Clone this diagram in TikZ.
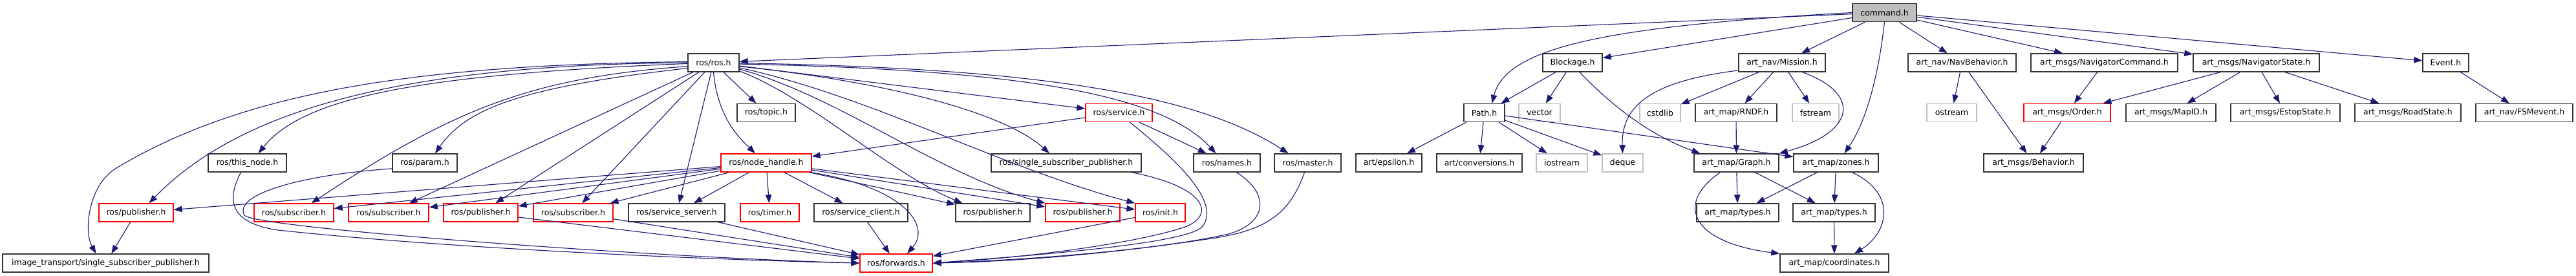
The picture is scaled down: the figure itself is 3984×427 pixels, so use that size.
\documentclass[tikz,border=0pt]{standalone}
\usepackage{fontspec}
\setmainfont{DejaVu Sans}
\usetikzlibrary{arrows.meta}
\definecolor{edgeblue}{HTML}{191970}
\definecolor{boxgray}{HTML}{BFBFBF}

\begin{document}
\begin{tikzpicture}[
    x=1pt, y=-1pt,
    font=\fontsize{12.5}{15}\selectfont,
    hfile/.style={rectangle, draw=black!80, line width=1.4pt, minimum height=28pt, inner sep=0pt},
    trunc/.style={hfile, draw=red},
    ext/.style={hfile, draw=boxgray},
    cur/.style={hfile, fill=boxgray},
    dep/.style={draw=edgeblue, line width=1.1pt, -{Triangle[length=13pt, width=9.5pt]}}
]
  \useasboundingbox (0,0) rectangle (3984,427);

  % --- ROW 0 ---
  \node[cur, minimum width=99pt] (command) at (2914.5,19.5) {command.h};

  % --- ROW 1 ---
  \node[hfile, minimum width=79pt] (ros) at (1103.5,97) {ros/ros.h};
  \node[hfile, minimum width=92pt] (blockage) at (2432,97) {Blockage.h};
  \node[hfile, minimum width=134pt] (mission) at (2756,97) {art\_nav/Mission.h};
  \node[hfile, minimum width=167pt] (navbeh) at (3034.5,97) {art\_nav/NavBehavior.h};
  \node[hfile, minimum width=227pt] (navcmd) at (3254.5,97) {art\_msgs/NavigatorCommand.h};
  \node[hfile, minimum width=195pt] (navstate) at (3489.5,97) {art\_msgs/NavigatorState.h};
  \node[hfile, minimum width=71pt] (event) at (3782.5,97) {Event.h};

  % --- ROW 2 ---
  \node[hfile, minimum width=90pt] (topic) at (1185,174.5) {ros/topic.h};
  \node[trunc, minimum width=103pt] (service) at (1730.5,174.5) {ros/service.h};
  \node[hfile, minimum width=63pt] (path) at (2295.5,174.5) {Path.h};
  \node[ext, minimum width=64pt] (vector) at (2381,174.5) {vector};
  \node[ext, minimum width=63pt] (cstdlib) at (2567.5,174.5) {cstdlib};
  \node[hfile, minimum width=126pt] (rndf) at (2685,174.5) {art\_map/RNDF.h};
  \node[ext, minimum width=72pt] (fstream) at (2808,174.5) {fstream};
  \node[ext, minimum width=77pt] (ostream) at (3018.5,174.5) {ostream};
  \node[trunc, minimum width=134pt] (order) at (3197,174.5) {art\_msgs/Order.h};
  \node[hfile, minimum width=139pt] (mapid) at (3357.5,174.5) {art\_msgs/MapID.h};
  \node[hfile, minimum width=169pt] (estop) at (3534.5,174.5) {art\_msgs/EstopState.h};
  \node[hfile, minimum width=164pt] (road) at (3724,174.5) {art\_msgs/RoadState.h};
  \node[hfile, minimum width=150pt] (fsm) at (3904,174.5) {art\_nav/FSMevent.h};

  % --- ROW 3 ---
  \node[hfile, minimum width=121pt] (thisnode) at (382.5,252) {ros/this\_node.h};
  \node[hfile, minimum width=100pt] (param) at (657,252) {ros/param.h};
  \node[trunc, minimum width=140pt] (nh) at (1185,252) {ros/node\_handle.h};
  \node[hfile, minimum width=232pt] (single) at (1649,252) {ros/single\_subscriber\_publisher.h};
  \node[hfile, minimum width=103pt] (names) at (1897.5,252) {ros/names.h};
  \node[hfile, minimum width=103pt] (master) at (2022.5,252) {ros/master.h};
  \node[hfile, minimum width=102pt] (epsilon) at (2148,252) {art/epsilon.h};
  \node[hfile, minimum width=132pt] (conv) at (2288,252) {art/conversions.h};
  \node[ext, minimum width=79pt] (iostream) at (2415.5,252) {iostream};
  \node[ext, minimum width=63pt] (deque) at (2509.5,252) {deque};
  \node[hfile, minimum width=131pt] (graph) at (2685.5,252) {art\_map/Graph.h};
  \node[hfile, minimum width=131pt] (zones) at (2839.5,252) {art\_map/zones.h};
  \node[hfile, minimum width=154pt] (behavior) at (3145,252) {art\_msgs/Behavior.h};

  % --- ROW 4 ---
  \node[trunc, minimum width=115pt] (pubA) at (210.5,329) {ros/publisher.h};
  \node[trunc, minimum width=123pt] (subA) at (454.5,329) {ros/subscriber.h};
  \node[trunc, minimum width=124pt] (subB) at (601,329) {ros/subscriber.h};
  \node[trunc, minimum width=115pt] (pubB) at (743.5,329) {ros/publisher.h};
  \node[trunc, minimum width=123pt] (subC) at (886.5,329) {ros/subscriber.h};
  \node[hfile, minimum width=149pt] (srvserver) at (1046.5,329) {ros/service\_server.h};
  \node[trunc, minimum width=91pt] (timer) at (1190.5,329) {ros/timer.h};
  \node[hfile, minimum width=145pt] (srvclient) at (1331.5,329) {ros/service\_client.h};
  \node[hfile, minimum width=115pt] (pubC) at (1535.5,329) {ros/publisher.h};
  \node[trunc, minimum width=115pt] (pubD) at (1674.5,329) {ros/publisher.h};
  \node[trunc, minimum width=77pt] (init) at (1794.5,329) {ros/init.h};
  \node[hfile, minimum width=127pt] (typesA) at (2687.5,329) {art\_map/types.h};
  \node[hfile, minimum width=127pt] (typesB) at (2836.5,329) {art\_map/types.h};

  % --- ROW 5 ---
  \node[hfile, minimum width=319pt] (imgsub) at (163.5,407) {image\_transport/single\_subscriber\_publisher.h};
  \node[trunc, minimum width=112pt] (forwards) at (1386,407) {ros/forwards.h};
  \node[hfile, minimum width=168pt] (coords) at (2837,407) {art\_map/coordinates.h};

  % --- DRAWING EDGES ---

  % command.h
  \draw[dep] (command) -- (ros);
  \draw[dep] (command.west) .. controls (2500,40) and (2330,70) .. ([xshift=12pt]path.north);
  \draw[dep] (command) -- (blockage);
  \draw[dep] (command) -- (mission);
  \draw[dep] (command.south) .. controls (2905,120) and (2885,190) .. ([xshift=13pt]zones.north);
  \draw[dep] (command) -- (navbeh);
  \draw[dep] (command) -- (navcmd);
  \draw[dep] (command) -- (navstate);
  \draw[dep] (command) -- (event);

  % ros/ros.h, left and down
  \draw[dep] (ros) -- (topic);
  \draw[dep] (ros.south) .. controls (1110,180) and (1140,210) .. ([xshift=-17pt]nh.north);
  \draw[dep] (ros) -- (srvserver);
  \draw[dep] (ros) -- (subC);
  \draw[dep] (ros) -- (pubB);
  \draw[dep] (ros) -- (subB);
  \draw[dep] (ros.188) .. controls (820,120) and (700,170) .. ([xshift=27pt]subA.north);
  \draw[dep] (ros.192) .. controls (800,135) and (720,170) .. ([xshift=16pt]param.north);
  \draw[dep] (ros.182) .. controls (650,115) and (470,150) .. ([xshift=17pt]thisnode.north);
  \draw[dep] (ros.180) .. controls (650,100) and (380,160) .. ([xshift=20pt]pubA.north);
  \draw[dep] (ros.178) .. controls (650,100) and (380,140) .. (180,260)
             .. controls (135,287) and (130,360) .. ([xshift=-15pt]imgsub.north);

  % ros/ros.h, right
  \draw[dep] (ros) -- (service);
  \draw[dep] (ros.-8) .. controls (1400,130) and (1560,180) .. ([xshift=-26pt]single.north);
  \draw[dep] (ros.-3) .. controls (1600,108) and (1800,150) .. ([xshift=-17pt]names.north);
  \draw[dep] (ros.-1) .. controls (1600,105) and (1850,145) .. ([xshift=-30pt]master.north);
  \draw[dep] (ros.-18) .. controls (1250,150) and (1380,270) .. ([xshift=-47pt]pubC.north);
  \draw[dep] (ros.-14) .. controls (1300,150) and (1450,270) .. (pubD.north west);
  \draw[dep] (ros.-11) .. controls (1350,150) and (1550,260) .. (init.north west);

  % ros/node_handle.h
  \draw[dep] (nh) -- (pubA);
  \draw[dep] (nh) -- (subA);
  \draw[dep] (nh) -- (subB);
  \draw[dep] (nh) -- (pubB);
  \draw[dep] (nh) -- (subC);
  \draw[dep] (nh) -- (srvserver);
  \draw[dep] (nh) -- (timer);
  \draw[dep] (nh) -- (srvclient);
  \draw[dep] (nh.-12) .. controls (1400,290) and (1440,350) .. ([xshift=17pt]forwards.north);
  \draw[dep] (nh) -- (pubC);
  \draw[dep] (nh) -- (pubD);
  \draw[dep] (nh) -- (init);

  % ros/service.h and the right side into forwards
  \draw[dep] (service) -- (nh);
  \draw[dep] (service) -- (names);
  \draw[dep] ([xshift=17pt]service.south) .. controls (1810,240) and (1890,310) .. (1860,350)
             .. controls (1840,377) and (1600,395) .. (forwards.east);
  \draw[dep] ([xshift=101pt]single.south) .. controls (1870,290) and (1880,335) .. (1830,352)
             .. controls (1760,375) and (1600,398) .. (forwards.east);
  \draw[dep] ([xshift=15pt]names.south) .. controls (1965,300) and (1960,345) .. (1900,362)
             .. controls (1800,385) and (1600,402) .. (forwards.east);
  \draw[dep] ([xshift=-5pt]master.south) .. controls (1995,330) and (1960,355) .. (1880,368)
             .. controls (1750,388) and (1600,404) .. (forwards.east);
  \draw[dep] (init) -- (forwards);

  % left side into forwards
  \draw[dep] ([xshift=-10pt]thisnode.south) .. controls (350,310) and (355,345) .. (430,356)
             .. controls (700,385) and (1100,402) .. (forwards.west);
  \draw[dep] (param.190) .. controls (470,270) and (360,300) .. (378,333)
             .. controls (390,352) and (1000,398) .. (forwards.west);
  \draw[dep] (pubB) -- (forwards);
  \draw[dep] (subC) -- (forwards);
  \draw[dep] (srvserver) -- (forwards);
  \draw[dep] (srvclient) -- (forwards);
  \draw[dep] (pubA) -- (imgsub);

  % Blockage.h, Path.h, Mission.h
  \draw[dep] (blockage) -- (path);
  \draw[dep] (blockage) -- (vector);
  \draw[dep] ([xshift=11pt]blockage.south) .. controls (2480,150) and (2540,205) .. ([xshift=10pt]graph.north west);
  \draw[dep] (path) -- (epsilon);
  \draw[dep] (path) -- (conv);
  \draw[dep] (path) -- (iostream);
  \draw[dep] (path) -- (deque);
  \draw[dep] (path) -- (zones);
  \draw[dep] (mission.190) .. controls (2560,125) and (2507,160) .. (deque.north);
  \draw[dep] (mission) -- (cstdlib);
  \draw[dep] (mission) -- (rndf);
  \draw[dep] (mission) -- (fstream);
  \draw[dep] (mission.-25) .. controls (2880,145) and (2870,205) .. (graph.north east);
  \draw[dep] (rndf) -- (graph);

  % art_map
  \draw[dep] (graph) -- (typesA);
  \draw[dep] (graph) -- (typesB);
  \draw[dep] ([xshift=-25pt]graph.south) .. controls (2590,315) and (2615,375) .. (coords.north west);
  \draw[dep] (zones) -- (typesA);
  \draw[dep] (zones) -- (typesB);
  \draw[dep] ([xshift=25pt]zones.south) .. controls (2935,300) and (2920,360) .. ([xshift=31pt]coords.north);
  \draw[dep] (typesB) -- (coords);

  % art_msgs and art_nav
  \draw[dep] (navbeh) -- (ostream);
  \draw[dep] (navbeh) -- (behavior);
  \draw[dep] (navcmd) -- (order);
  \draw[dep] (order) -- (behavior);
  \draw[dep] (navstate) -- (order);
  \draw[dep] (navstate) -- (mapid);
  \draw[dep] (navstate) -- (estop);
  \draw[dep] (navstate) -- (road);
  \draw[dep] (event) -- (fsm);

\end{tikzpicture}
\end{document}
